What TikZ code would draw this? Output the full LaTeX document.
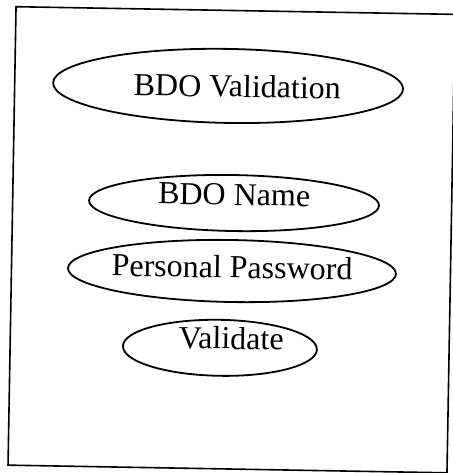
\documentclass[tikz,border=0pt]{standalone}
\usepackage{fontspec}
\setmainfont{Liberation Serif}
\begin{document}
\begin{tikzpicture}[x=1pt,y=-1pt,
  frame/.style={line width=1.6pt},
  oval/.style={line width=1.8pt},
  caption/.style={font=\fontsize{32}{36}\selectfont, anchor=base,
    inner sep=0pt, transform shape}]
\useasboundingbox (0,0) rectangle (452,473);
\begin{scope}[rotate around={-1:(231,240)}]
  % outer frame
  \draw[frame] (12,10.5) rectangle (451,469);
  % ovals
  \draw[oval] (225.4,86)  ellipse [x radius=175pt, y radius=37pt];
  \draw[oval] (233.4,203) ellipse [x radius=145pt, y radius=28pt];
  \draw[oval] (232.5,271) ellipse [x radius=164pt, y radius=31pt];
  \draw[oval] (221.8,348) ellipse [x radius=97pt,  y radius=28pt];
  % captions
  \node[caption] (validation) at (234.6,97)  {BDO Validation};
  \node[caption] (name)       at (233.4,205) {BDO Name};
  \node[caption] (password)   at (232.6,278) {Personal Password};
  \node[caption] (validate)   at (232.9,349) {Validate};
\end{scope}
\end{tikzpicture}
\end{document}
